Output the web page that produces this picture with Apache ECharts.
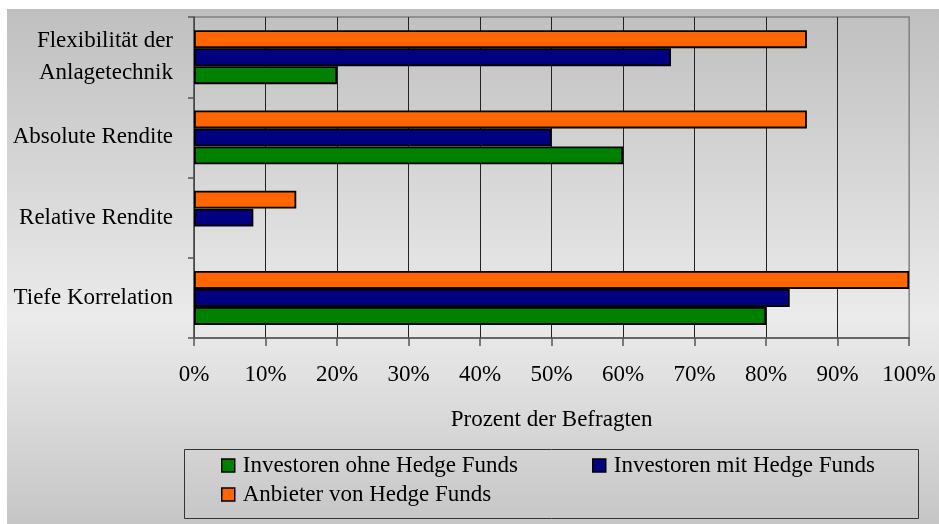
<!DOCTYPE html>
<html>
<head>
<meta charset="utf-8">
<script src="https://cdn.jsdelivr.net/npm/echarts@6/dist/echarts.min.js"></script>
<style>
  html, body { margin: 0; padding: 0; background: #fff; }
  #chart { width: 939px; height: 524px; }
</style>
</head>
<body>
<div id="chart"></div>
<script>
// Kategorien von oben nach unten
const categories = ['Flexibilität der\nAnlagetechnik', 'Absolute Rendite', 'Relative Rendite', 'Tiefe Korrelation']
const ohneHF = [20, 60, null, 80]        // Investoren ohne Hedge Funds
const mitHF = [66.7, 50, 8.3, 83.3]      // Investoren mit Hedge Funds
const anbieter = [85.7, 85.7, 14.3, 100] // Anbieter von Hedge Funds
const xTicks = [0, 10, 20, 30, 40, 50, 60, 70, 80, 90, 100]

const font = 'Liberation Serif'
const fsize = 23

const my_chart = echarts.init(document.getElementById('chart'), null, {renderer: 'canvas'})

function barSeries(name, data, color) {
  return {
    name: name,
    type: 'bar',
    data: data,
    barWidth: 18,
    barGap: '0%',
    itemStyle: {
      color: color,
      borderColor: '#000',
      borderWidth: 1.8
    }
  }
}

function legendAt(name, left, top) {
  return {
    data: [name],
    left: left,
    top: top,
    icon: 'rect',
    itemWidth: 13,
    itemHeight: 13,
    itemGap: 0,
    padding: 0,
    selectedMode: false,
    itemStyle: { borderColor: '#000', borderWidth: 1.5 },
    textStyle: { fontFamily: font, fontSize: fsize, color: '#000', padding: [0, 0, 0, 3] }
  }
}

my_chart.setOption({
  animation: false,
  backgroundColor: '#fff',
  graphic: [
    {
      type: 'rect',
      z: -100,
      shape: { x: 7, y: 9, width: 932, height: 515 },
      style: {
        fill: new echarts.graphic.LinearGradient(0, 0, 0, 1, [
          { offset: 0, color: '#bfbfbf' },
          { offset: 0.6, color: '#ebebeb' },
          { offset: 1, color: '#c6c6c6' }
        ])
      }
    },
    {
      type: 'rect',
      z: -50,
      shape: { x: 184.5, y: 449.5, width: 734, height: 69 },
      style: { fill: 'transparent', stroke: '#333', lineWidth: 1 }
    }
  ],
  legend: [
    legendAt('Investoren ohne Hedge Funds', 221, 454),
    legendAt('Investoren mit Hedge Funds', 592, 454),
    legendAt('Anbieter von Hedge Funds', 221, 483)
  ],
  grid: {
    left: 194,
    right: 26,
    top: 17,
    bottom: 186,
    show: true,
    backgroundColor: 'transparent',
    borderColor: '#808080',
    borderWidth: 1.5
  },
  xAxis: {
    type: 'value',
    min: 0,
    max: 100,
    interval: 10,
    name: 'Prozent der Befragten',
    nameLocation: 'middle',
    nameGap: 70,
    nameTextStyle: { fontFamily: font, fontSize: fsize, color: '#000' },
    axisLine: { show: true, lineStyle: { color: '#555', width: 1.5 } },
    axisTick: { show: true, length: 8, lineStyle: { color: '#555', width: 1.5 } },
    axisLabel: {
      margin: 25,
      fontFamily: font,
      fontSize: fsize,
      color: '#000',
      formatter: function (v) { return v + '%' }
    },
    splitLine: { show: true, showMaxLine: false, lineStyle: { color: '#222', width: 1 } }
  },
  yAxis: {
    type: 'category',
    inverse: true,
    data: categories,
    axisLine: { show: true, lineStyle: { color: '#555', width: 1.5 } },
    axisTick: { show: true, length: 6, lineStyle: { color: '#555', width: 1.5 } },
    axisLabel: {
      margin: 21,
      fontFamily: font,
      fontSize: fsize,
      lineHeight: 32,
      color: '#000'
    },
    splitLine: { show: false }
  },
  series: [
    barSeries('Anbieter von Hedge Funds', anbieter, '#FF6600'),
    barSeries('Investoren mit Hedge Funds', mitHF, '#000080'),
    barSeries('Investoren ohne Hedge Funds', ohneHF, '#008000')
  ]
})
</script>
</body>
</html>
